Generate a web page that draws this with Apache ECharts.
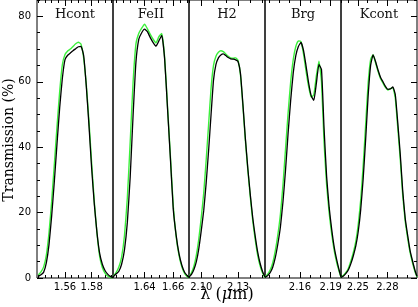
<!DOCTYPE html>
<html><head><meta charset="utf-8">
<script src="https://cdn.jsdelivr.net/npm/echarts@6/dist/echarts.min.js"></script>
<style>html,body{margin:0;padding:0;background:#fff}#c{width:418px;height:307px}</style>
</head><body><div id="c"></div>
<script>
const filterNames = ['Hcont', 'FeII', 'H2', 'Brg', 'Kcont'];

const lambdaHcont = [1.540,1.542,1.544,1.546,1.548,1.550,1.552,1.554,1.556,1.558,1.560,1.562,1.564,1.566,1.568,1.570,1.572,1.574,1.576,1.578,1.580,1.582,1.584,1.586,1.588,1.590,1.592,1.594,1.596];
const hcontBlack = [0.5,1.0,1.8,4.6,10.2,19,29.5,41,52,61,66.8,68.1,68.8,69.5,70.1,70.7,70.8,68,58.5,46.5,33.5,22.5,13.8,7.5,4.2,2.3,1.2,0.5,0.1];
const hcontGreen = [0.9,1.9,3.4,7,13.8,23.5,34.8,46.3,57,65.2,68.3,69.4,70,70.8,71.6,72.1,71.5,67.2,59,47.8,35,23.2,13.6,6.6,3.2,1.5,0.6,0.2,0];

const lambdaFeII = [1.618,1.620,1.622,1.624,1.626,1.628,1.630,1.632,1.634,1.636,1.638,1.640,1.642,1.644,1.646,1.648,1.650,1.652,1.654,1.656,1.658,1.660,1.662,1.664,1.666,1.668,1.670,1.671];
const feiiBlack = [0.3,1.2,2.0,4.2,8.6,17,31,49.7,66,73,75,76.1,75.3,73.5,72,70.9,72.5,74.2,67,52,36.8,21.2,13.2,7.5,3.9,1.7,0.6,0.1];
const feiiGreen = [0.5,1.6,3.3,6.4,13,24.5,41.7,59.8,71.6,74.8,76.4,77.6,76.2,74.5,73,71.9,73.8,74.8,67.5,52.6,37.5,22.2,12.8,7,3.4,1.3,0.3,0];

const lambdaH2 = [2.090,2.092,2.094,2.096,2.098,2.100,2.102,2.104,2.106,2.108,2.110,2.112,2.114,2.116,2.118,2.120,2.122,2.124,2.126,2.128,2.130,2.132,2.134,2.136,2.138,2.140,2.142,2.144,2.146,2.148,2.150,2.152];
const h2Black = [0.3,1.1,2.6,5,9,14.5,20.6,29,39,50,60.5,65.3,67.3,68.2,68.5,68,67.4,67,66.9,66.7,66.2,62.5,53,42.6,33.5,25.5,18.4,12.8,8,4.5,2,0.3];
const h2Green = [0.5,1.6,3.6,7,12,18.5,26,36,47,58,65,67.8,69,69.5,69.2,68.5,67.8,67.3,67.2,67.3,66.5,62,52.5,42,33,24.8,17.5,11.8,7,3.7,1.5,0.1];

const lambdaBrg = [2.1260,2.1285,2.1310,2.1335,2.1360,2.1385,2.1410,2.1435,2.1460,2.1485,2.1510,2.1535,2.1560,2.1585,2.1610,2.1635,2.1660,2.1685,2.1710,2.1735,2.1760,2.1785,2.1810,2.1835,2.1860,2.1885,2.1910,2.1935,2.1960,2.1985,2.2000];
const brgBlack = [0.2,0.7,1.6,3.3,6.2,10.4,15.6,23.3,33,44.3,54.3,62.7,68,70.8,72,69.6,64.8,59.6,55.7,54.3,59.5,65.3,63.7,45.8,31,21.5,14.7,9.2,5.3,2,0.3];
const brgGreen = [0.4,1.1,2.4,4.6,8.3,13.2,19.5,28.5,39.5,50.5,60,66.8,70.8,72.5,72.3,68.5,63.2,58.5,55.3,56,61.8,66.3,60,41.5,28.5,19.8,13.3,8.2,4.5,1.7,0.2];

const lambdaKcont = [2.2330,2.2355,2.2380,2.2405,2.2430,2.2455,2.2480,2.2505,2.2530,2.2555,2.2580,2.2605,2.2630,2.2655,2.2680,2.2705,2.2730,2.2755,2.2780,2.2805,2.2830,2.2855,2.2880,2.2905,2.2930,2.2955,2.2980,2.3005,2.3030,2.3055,2.3080,2.3100];
const kcontBlack = [0.2,0.6,1.4,2.5,4.4,6.8,9.8,14.3,21,30.5,42.5,55.7,65,68.2,66.2,63.6,61.4,60,58.6,57.7,57.8,58.4,56.1,47.5,38,26.8,18.4,13.1,8.4,5.2,2.3,0.5];
const kcontGreen = [0.3,0.8,1.7,3,5.2,7.8,11.2,16.5,24,34.5,47,59.5,66.8,68.3,65.8,63.2,61,59.6,58.3,57.5,57.9,58.2,55,46,36.5,25.5,17.5,12.3,7.8,4.6,1.9,0.3];

const xMin = [1.539, 1.618, 2.090, 2.126, 2.233];
const xMax = [1.596, 1.671, 2.152, 2.200, 2.310];
const xMajorTicks = [[1.56,1.58],[1.64,1.66],[2.10,2.13],[2.16,2.19],[2.25,2.28]];
const xMinorTicks = [
  [1.540,1.545,1.550,1.555,1.565,1.570,1.575,1.585,1.590,1.595],
  [1.620,1.625,1.630,1.635,1.645,1.650,1.655,1.665,1.670],
  [2.09,2.11,2.12,2.14,2.15],
  [2.13,2.14,2.15,2.17,2.18,2.20],
  [2.24,2.26,2.27,2.29,2.30]
];
const yMajorTicks = [0,20,40,60,80];
const yMinorTicks = [5,10,15,25,30,35,45,50,55,65,70,75,85];

const waves = [lambdaHcont, lambdaFeII, lambdaH2, lambdaBrg, lambdaKcont];
const blackSets = [hcontBlack, feiiBlack, h2Black, brgBlack, kcontBlack];
const greenSets = [hcontGreen, feiiGreen, h2Green, brgGreen, kcontGreen];

const PL = 37, PW = 76, TOP = 0, BOTTOM = 29, YMAX = 85;
const chart = echarts.init(document.getElementById('c'), null, {renderer: 'canvas'});

const grids = [], xAxes = [], yAxes = [], series = [], graphics = [];
const tickFont = {fontSize: 10, color: '#000', fontFamily: 'DejaVu Sans'};

for (let i = 0; i < 5; i++) {
  grids.push({left: PL + PW * i, width: PW, top: TOP, bottom: BOTTOM, show: true,
    borderColor: '#000', borderWidth: 1, backgroundColor: 'transparent', containLabel: false});
  const baseX = xAxes.length;
  const mk = (pos, ticks, len, labels) => ({
    gridIndex: i, type: 'value', min: xMin[i], max: xMax[i], position: pos,
    axisLine: {show: false, onZero: false}, splitLine: {show: false},
    axisTick: {show: true, inside: true, length: len, customValues: ticks, lineStyle: {color: '#000', width: 1}},
    axisLabel: labels ? Object.assign({show: true, customValues: ticks, margin: 4,
      formatter: v => v.toFixed(2)}, tickFont) : {show: false}
  });
  xAxes.push(mk('bottom', xMajorTicks[i], 6, true));
  xAxes.push(mk('bottom', xMinorTicks[i], 3, false));
  xAxes.push(mk('top', xMajorTicks[i], 6, false));
  xAxes.push(mk('top', xMinorTicks[i], 3, false));

  const baseY = yAxes.length;
  const mky = (pos, ticks, len, labels, show) => ({
    gridIndex: i, type: 'value', min: 0, max: YMAX, position: pos, show: show,
    axisLine: {show: false, onZero: false}, splitLine: {show: false},
    axisTick: {show: true, inside: true, length: len, customValues: ticks, lineStyle: {color: '#000', width: 1}},
    axisLabel: labels ? Object.assign({show: true, customValues: ticks, margin: 6}, tickFont) : {show: false}
  });
  if (i === 0) {
    yAxes.push(mky('left', yMajorTicks, 6, true, true));
    yAxes.push(mky('left', yMinorTicks, 3, false, true));
  } else if (i === 4) {
    yAxes.push(mky('right', yMajorTicks, 6, false, true));
    yAxes.push(mky('right', yMinorTicks, 3, false, true));
  } else {
    yAxes.push(mky('left', [], 0, false, false));
  }

  series.push({
    type: 'line', xAxisIndex: baseX, yAxisIndex: baseY,
    data: waves[i].map((w, k) => [w, greenSets[i][k]]),
    showSymbol: false, symbol: 'none', silent: true, smooth: 0.15,
    lineStyle: {color: '#3cf03c', width: 1.4}, z: 2
  });
  series.push({
    type: 'line', xAxisIndex: baseX, yAxisIndex: baseY,
    data: waves[i].map((w, k) => [w, blackSets[i][k]]),
    showSymbol: false, symbol: 'none', silent: true, smooth: 0.15,
    lineStyle: {color: '#000', width: 1.3}, z: 3
  });

  graphics.push({
    type: 'text', x: PL + PW * i + PW / 2, y: 15,
    style: {text: filterNames[i], font: '13px "DejaVu Serif"', fill: '#111',
      textAlign: 'center', textVerticalAlign: 'middle'}
  });
}

graphics.push({
  type: 'text', x: 9, y: 140, rotation: Math.PI / 2,
  style: {text: 'Transmission (%)', font: '14px "DejaVu Serif"', fill: '#000',
    textAlign: 'center', textVerticalAlign: 'middle'}
});
graphics.push({
  type: 'text', x: 227, y: 295,
  style: {text: 'λ ({i|μ}m)', font: '16px "DejaVu Serif"', fill: '#000',
    textAlign: 'center', textVerticalAlign: 'middle',
    rich: {i: {fontStyle: 'italic', fontSize: 16, fontFamily: 'DejaVu Serif'}}}
});

chart.setOption({
  animation: false,
  backgroundColor: '#fff',
  grid: grids,
  xAxis: xAxes,
  yAxis: yAxes,
  series: series,
  graphic: graphics
});
</script>
</body></html>
